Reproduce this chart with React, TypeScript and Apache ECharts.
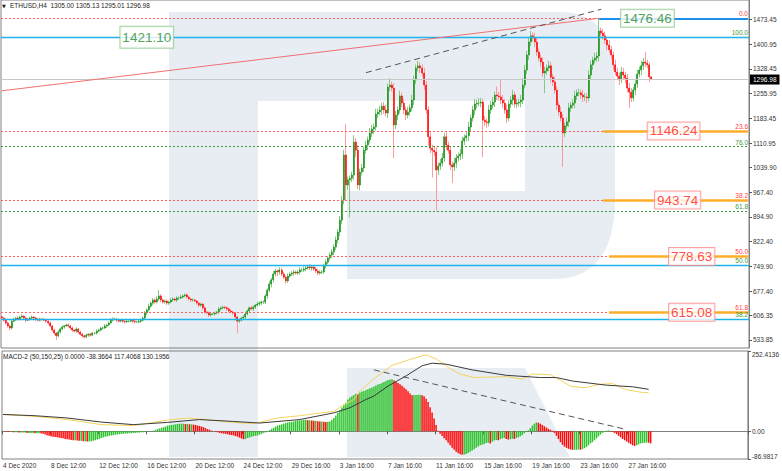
import React, { useEffect, useRef } from 'react';
import * as echarts from 'echarts';

// ---------- DATA ----------
const FIRST_OPEN = 602;

const closes = [
  598, 592, 584, 575, 569, 589, 595, 598, 595, 601,
  604, 598, 592, 595, 598, 601, 598, 595, 592, 595,
  595, 592, 589, 584, 575, 563, 554, 546, 557, 566,
  572, 575, 578, 575, 569, 563, 560, 566, 557, 551,
  546, 543, 548, 551, 548, 554, 554, 560, 563, 569,
  569, 575, 578, 584, 592, 595, 595, 592, 589, 592,
  589, 587, 589, 589, 592, 589, 587, 587, 589, 592,
  598, 613, 622, 633, 642, 651, 645, 654, 663, 651,
  645, 648, 642, 645, 651, 654, 651, 657, 657, 660,
  663, 666, 660, 654, 651, 651, 648, 642, 636, 639,
  628, 616, 613, 607, 610, 610, 613, 616, 625, 628,
  630, 628, 625, 619, 616, 613, 601, 589, 592, 598,
  601, 610, 619, 628, 625, 630, 636, 639, 642, 645,
  645, 663, 680, 698, 710, 727, 736, 733, 739, 727,
  718, 707, 721, 727, 730, 733, 730, 733, 739, 739,
  742, 745, 748, 745, 748, 742, 736, 730, 733, 733,
  751, 762, 774, 783, 792, 806, 827, 850, 885, 944,
  1076, 988, 1003, 1008, 1017, 1114, 1090, 988, 1026, 1038,
  1090, 1105, 1120, 1140, 1152, 1158, 1196, 1202, 1208, 1219,
  1208, 1199, 1275, 1281, 1272, 1164, 1193, 1208, 1249, 1228,
  1208, 1193, 1202, 1214, 1237, 1296, 1331, 1337, 1331, 1316,
  1281, 1208, 1129, 1096, 1090, 1085, 1032, 1044, 1052, 1067,
  1129, 1105, 1090, 1047, 1041, 1052, 1067, 1073, 1079, 1117,
  1126, 1132, 1158, 1184, 1208, 1225, 1228, 1228, 1231, 1178,
  1173, 1170, 1208, 1222, 1231, 1252, 1249, 1246, 1237, 1228,
  1208, 1184, 1225, 1237, 1252, 1225, 1228, 1231, 1237, 1281,
  1325, 1369, 1407, 1425, 1419, 1407, 1378, 1360, 1348, 1316,
  1322, 1331, 1337, 1304, 1290, 1266, 1222, 1202, 1184, 1140,
  1161, 1173, 1214, 1222, 1228, 1249, 1258, 1258, 1252, 1246,
  1246, 1243, 1310, 1340, 1354, 1360, 1366, 1439, 1433, 1425,
  1413, 1398, 1384, 1369, 1340, 1319, 1307, 1296, 1319, 1310,
  1301, 1272, 1260, 1243, 1266, 1284, 1313, 1325, 1337, 1348,
  1345, 1340, 1305, 1296.98,
];

const upWicks = [
  4, 3, 5, 3, 4, 6, 4, 3, 5, 4,
  5, 3, 4, 3, 4, 5, 3, 4, 3, 4,
  3, 4, 3, 3, 4, 3, 4, 3, 6, 4,
  5, 3, 4, 4, 3, 4, 3, 5, 3, 4,
  3, 4, 5, 3, 4, 4, 3, 5, 4, 3,
  4, 5, 3, 4, 6, 5, 4, 3, 4, 3,
  4, 3, 5, 3, 4, 3, 4, 3, 5, 4,
  5, 6, 4, 7, 5, 6, 5, 8, 17, 5,
  5, 4, 5, 4, 6, 5, 4, 5, 4, 6,
  5, 4, 5, 4, 3, 5, 4, 3, 5, 4,
  4, 5, 3, 4, 5, 4, 5, 4, 5, 4,
  5, 4, 5, 4, 5, 4, 3, 4, 5, 4,
  5, 4, 5, 4, 6, 5, 4, 8, 5, 4,
  5, 6, 5, 8, 6, 9, 6, 5, 8, 6,
  6, 5, 8, 5, 6, 7, 5, 6, 8, 6,
  7, 6, 5, 8, 6, 5, 6, 7, 5, 6,
  6, 8, 6, 7, 8, 8, 10, 9, 12, 12,
  15, 91, 10, 8, 10, 20, 12, 15, 10, 12,
  10, 12, 10, 15, 12, 10, 15, 10, 12, 10,
  12, 15, 10, 20, 10, 15, 12, 10, 15, 10,
  12, 10, 15, 10, 15, 12, 10, 15, 12, 10,
  15, 12, 10, 15, 10, 12, 15, 10, 12, 15,
  12, 15, 10, 12, 10, 15, 12, 10, 15, 12,
  10, 12, 15, 10, 12, 15, 10, 15, 12, 10,
  12, 10, 15, 12, 15, 10, 25, 12, 50, 15,
  12, 15, 10, 12, 15, 10, 12, 10, 15, 20,
  15, 12, 15, 14, 10, 15, 12, 10, 12, 15,
  12, 10, 15, 12, 10, 15, 12, 10, 15, 12,
  10, 12, 15, 10, 12, 15, 10, 12, 10, 15,
  12, 10, 15, 12, 10, 15, 12, 37.46, 10, 12,
  12, 10, 15, 12, 10, 15, 12, 10, 15, 12,
  10, 12, 15, 12, 10, 15, 12, 10, 15, 12,
  30, 10, 8, 0.13,
];

const downWicks = [
  4, 5, 6, 5, 7, 4, 3, 5, 4, 3,
  3, 4, 5, 3, 4, 3, 4, 5, 3, 4,
  4, 3, 4, 5, 4, 5, 6, 12, 5, 4,
  4, 5, 3, 4, 5, 6, 4, 5, 6, 4,
  6, 5, 4, 5, 4, 3, 5, 4, 3, 4,
  4, 3, 5, 4, 3, 4, 3, 5, 4, 3,
  4, 5, 3, 4, 3, 4, 5, 3, 4, 5,
  4, 5, 6, 5, 4, 6, 5, 4, 5, 6,
  5, 4, 6, 5, 4, 5, 4, 6, 5, 4,
  5, 4, 5, 4, 6, 5, 4, 5, 6, 5,
  6, 5, 4, 6, 5, 4, 5, 4, 6, 5,
  5, 4, 6, 5, 4, 5, 6, 35, 5, 4,
  5, 6, 4, 5, 4, 6, 5, 4, 5, 6,
  5, 6, 8, 6, 10, 8, 6, 12, 8, 6,
  6, 8, 6, 5, 6, 8, 5, 6, 7, 6,
  6, 7, 5, 6, 8, 5, 6, 7, 5, 6,
  6, 8, 6, 7, 8, 10, 8, 10, 12, 12,
  12, 44, 15, 110, 12, 15, 20, 12, 15, 10,
  12, 10, 15, 10, 12, 15, 10, 12, 10, 15,
  12, 10, 15, 12, 10, 97, 12, 15, 10, 12,
  12, 15, 10, 12, 10, 15, 12, 10, 15, 12,
  15, 12, 25, 15, 80, 12, 119, 15, 12, 10,
  12, 15, 10, 15, 47, 12, 15, 10, 12, 15,
  12, 10, 15, 12, 10, 15, 12, 10, 12, 108,
  12, 15, 10, 12, 10, 15, 12, 10, 12, 15,
  12, 15, 10, 12, 15, 10, 12, 10, 15, 12,
  10, 12, 15, 12, 10, 15, 12, 10, 15, 12,
  59, 12, 10, 15, 12, 10, 15, 12, 10, 99,
  12, 10, 15, 12, 10, 15, 12, 10, 12, 15,
  12, 15, 10, 12, 15, 10, 12, 15, 10, 12,
  12, 15, 10, 12, 15, 10, 12, 15, 10, 12,
  15, 12, 46, 12, 10, 15, 12, 10, 15, 12,
  12, 10, 15, 1.97,
];

const histogram = [
  2, 1, -1, -2, -2, -3, -3, -3, -4, -4,
  -4, -4, -5, -5, -5, -5, -6, -6, -6, -7,
  -8, -10, -12, -14, -16, -17, -18, -19, -20, -21,
  -22, -24, -25, -26, -27, -28, -28, -29, -30, -30,
  -31, -31, -32, -32, -31, -30, -28, -26, -24, -21,
  -19, -17, -16, -14, -13, -12, -11, -10, -9, -8,
  -8, -7, -7, -6, -6, -5, -5, -4, -4, -3,
  -3, -2, -1, -1, 0, 2, 4, 7, 9, 11,
  13, 15, 18, 19, 20, 21, 22, 23, 24, 24,
  24, 23, 23, 22, 22, 21, 20, 18, 17, 15,
  13, 10, 7, 5, 2, 0, -2, -3, -5, -6,
  -7, -8, -9, -11, -12, -13, -15, -17, -20, -23,
  -25, -24, -21, -19, -17, -15, -14, -13, -10, -8,
  -5, -3, 0, 4, 8, 11, 15, 18, 20, 22,
  24, 26, 28, 29, 30, 31, 33, 34, 35, 35,
  36, 36, 35, 35, 34, 33, 33, 32, 31, 31,
  30, 29, 30, 31, 36, 42, 50, 58, 66, 75,
  84, 90, 100, 106, 110, 114, 118, 117, 122, 125,
  127, 130, 132, 135, 138, 141, 144, 147, 149, 152,
  155, 158, 161, 163, 164, 160, 156, 152, 148, 143,
  138, 132, 126, 119, 113, 114, 114, 115, 115, 113,
  110, 102, 92, 76, 59, 40, 20, 2, -8, -15,
  -22, -28, -36, -44, -52, -58, -64, -69, -72, -74,
  -73, -71, -68, -64, -60, -56, -52, -48, -44, -42,
  -40, -37, -36, -38, -33, -29, -27, -28, -25, -22,
  -21, -24, -26, -25, -23, -24, -21, -19, -16, -12,
  -6, -2, 3, 10, 18, 24, 28, 27, 24, 20,
  16, 12, 8, 5, 2, -5, -14, -24, -34, -42,
  -48, -52, -55, -57, -58, -58, -58, -57, -58, -56,
  -53, -49, -44, -38, -34, -28, -22, -16, -10, -5,
  -1, 2, 3, 1, -2, -5, -9, -14, -19, -24,
  -28, -32, -36, -40, -44, -46, -44, -41, -38, -37,
  -36, -35, -36, -38,
];

// MACD lines as [bar index, value] vertices
const macdBlackLine = [
  [0, 53], [16, 49], [32, 42], [49, 29], [65, 21], [82, 28], [98, 37], [115, 31],
  [128, 26], [148, 37], [165, 58], [173, 74], [181, 100], [185, 111], [192, 142],
  [201, 174], [209, 206], [214, 214], [221, 211], [234, 193], [251, 176], [268, 169],
  [276, 169], [284, 158], [301, 145], [314, 140], [322, 132],
];
const macdYellowLine = [
  [0, 53], [16, 47], [32, 37], [49, 21], [65, 18], [82, 35], [92, 42], [115, 28],
  [125, 24], [137, 42], [148, 49], [165, 63], [169, 79], [175, 100], [178, 127],
  [185, 165], [194, 207], [203, 226], [211, 240], [216, 228], [222, 201], [228, 180],
  [235, 169], [251, 172], [259, 164], [264, 180], [273, 178], [277, 164], [283, 142],
  [290, 137], [298, 148], [304, 150], [310, 132], [318, 123], [322, 121],
];

const xTickLabels = [
  '4 Dec 2020', '8 Dec 12:00', '12 Dec 12:00', '16 Dec 12:00', '20 Dec 12:00',
  '24 Dec 12:00', '29 Dec 16:00', '3 Jan 16:00', '7 Jan 16:00', '11 Jan 16:00',
  '15 Jan 16:00', '19 Jan 16:00', '23 Jan 16:00', '27 Jan 16:00',
];
const X_TICK_STEP = 24;
const SLOT_COUNT = 372;

const priceTicks = [
  533.85, 606.35, 677.4, 749.9, 822.4, 894.9, 967.4, 1039.9,
  1110.95, 1183.45, 1255.95, 1328.45, 1400.95, 1473.45,
];
const macdTicks = [252.4136, 0, -86.9817];
const macdTickLabels = ['252.4136', '0.00', '-86.9817'];

const redFibLabels = ['0.0', '23.6', '38.2', '50.0', '61.8'];
const redFibValues = [1476.46, 1146.24, 943.74, 778.63, 615.08];
const greenFibLabels = ['100.0', '76.0', '61.8', '50.0', '38.2'];
const greenFibValues = [1421.1, 1100.3, 910.4, 752.7, 594.9];
const cyanLevels = [1421.1, 752.7, 594.9];
const currentPrice = 1296.98;

// trend lines: [bar index, value] endpoints
const redTrend = [[0, 1264], [297, 1476.46]];
const blackTrend = [[181, 1317], [298, 1503]];
const macdTrend = [[185, 193], [310, 7]];

const headerText = 'ETHUSD,H4  1305.00 1305.13 1295.01 1296.98';
const macdHeader = 'MACD-2 (50,150,25) 0.0000 -38.3664 117.4068 130.1956';

// ---------- LOGO ----------
const LOGO_D =
  'M169 12 H560 C600 12 615 40 615 85 V200 C615 250 595 279 555 279 H347 V191 H525 V101 H258 V457 H169 Z ' +
  'M347 368 H525 L570 457 H347 Z';
let logoRegistered = false;
function ensureLogo() {
  if (logoRegistered) return;
  echarts.graphic.registerShape('rfLogo', echarts.graphic.extendPath(LOGO_D, {}));
  logoRegistered = true;
}

const FONT = 'Liberation Sans, Arial, sans-serif';
const UP_BODY = '#0f8f0f';
const DOWN_BODY = '#ff0000';
const UP_WICK = '#86c986';
const DOWN_WICK = '#ff9a9a';
const CYAN = '#1cb4ea';

function buildOption() {
  const slots = Array.from({ length: SLOT_COUNT }, (_, i) => String(i));
  const candles = closes.map((c, i) => {
    const o = i === 0 ? FIRST_OPEN : closes[i - 1];
    const h = Math.max(o, c) + upWicks[i];
    const l = Math.min(o, c) - downWicks[i];
    return [o, c, l, h];
  });
  // bodies only (no wicks), drawn over the light-coloured full candles
  const bodies = candles.map(([o, c]) => [o, c, Math.min(o, c), Math.max(o, c)]);
  const histData = histogram.map((v, i) => ({
    value: v,
    itemStyle: { color: i === 0 || v >= histogram[i - 1] ? '#2fc42f' : '#ff0a0a' },
  }));
  const tickInterval = (index: number) =>
    index % X_TICK_STEP === 0 && index / X_TICK_STEP < xTickLabels.length;

  const lastSlot = SLOT_COUNT - 1;
  const smallLabel = { fontSize: 6.5, fontFamily: FONT };

  const markData: any[] = [];
  redFibValues.forEach((v, k) => {
    markData.push({
      yAxis: v,
      lineStyle: { color: '#ff6060', width: 1, type: [2, 2] },
      label: { show: true, position: 'insideEndTop', formatter: redFibLabels[k], color: '#ff4040', distance: 1, ...smallLabel },
    });
  });
  greenFibValues.forEach((v, k) => {
    const isCyan = cyanLevels.includes(v);
    markData.push({
      yAxis: v,
      lineStyle: isCyan
        ? { color: CYAN, width: 1.3, type: 'solid' }
        : { color: '#3a9a3a', width: 1, type: [2, 2] },
      label: { show: true, position: 'insideEndTop', formatter: greenFibLabels[k], color: '#3a9a3a', distance: 1, ...smallLabel },
    });
  });
  markData.push({
    yAxis: currentPrice,
    lineStyle: { color: '#c8c8c8', width: 1, type: 'solid' },
    label: {
      show: true, position: 'end', formatter: currentPrice.toFixed(2), color: '#fff',
      backgroundColor: '#000', padding: [2, 3, 1, 3], distance: 1, ...smallLabel,
    },
  });
  markData.push([
    { coord: [297, redFibValues[0]], lineStyle: { color: '#1e8fe8', width: 2, type: 'solid' }, label: { show: false } },
    { coord: [lastSlot, redFibValues[0]] },
  ]);
  const orangeStart = [null, 299, 299, 302, 302];
  redFibValues.forEach((v, k) => {
    if (orangeStart[k] == null) return;
    markData.push([
      { coord: [orangeStart[k], v], lineStyle: { color: '#ffae2a', width: 2.5, type: 'solid' }, label: { show: false } },
      { coord: [lastSlot, v] },
    ]);
  });
  markData.push([
    { coord: redTrend[0], lineStyle: { color: '#f07070', width: 1, type: 'solid' }, label: { show: false } },
    { coord: redTrend[1] },
  ]);
  markData.push([
    { coord: blackTrend[0], lineStyle: { color: '#555', width: 1, type: [6, 4] }, label: { show: false } },
    { coord: blackTrend[1] },
  ]);

  const boxBase = {
    show: true, position: 'inside', fontSize: 13.5, fontFamily: FONT, backgroundColor: '#fff',
    borderWidth: 1, padding: [2, 2, 1, 2], lineHeight: 14,
  };
  const greenBox = { ...boxBase, color: '#23882a', borderColor: '#8cc88c' };
  const redBox = { ...boxBase, color: '#ff1a1a', borderColor: '#ff8a8a' };
  const boxes = [
    { value: [72, greenFibValues[0]], label: { ...greenBox, padding: [4, 2, 3, 2], formatter: greenFibValues[0].toFixed(2) } },
    { value: [321, redFibValues[0]], label: { ...greenBox, formatter: redFibValues[0].toFixed(2) } },
    { value: [334, redFibValues[1]], label: { ...redBox, formatter: redFibValues[1].toFixed(2) } },
    { value: [336, redFibValues[2]], label: { ...redBox, formatter: redFibValues[2].toFixed(2) } },
    { value: [343, redFibValues[3]], label: { ...redBox, formatter: redFibValues[3].toFixed(2) } },
    { value: [343, redFibValues[4]], label: { ...redBox, formatter: redFibValues[4].toFixed(2) } },
  ];

  return {
    animation: false,
    backgroundColor: '#ffffff',
    textStyle: { fontFamily: FONT },
    grid: [
      { left: 1, right: 33, top: 0, height: 348, show: true, borderColor: '#808080', borderWidth: 1, backgroundColor: 'transparent' },
      { left: 1, right: 33, top: 351, height: 108, show: true, borderColor: '#808080', borderWidth: 1, backgroundColor: 'transparent' },
    ],
    xAxis: [
      {
        type: 'category', gridIndex: 0, data: slots, boundaryGap: true,
        axisLine: { show: false }, axisTick: { show: false }, axisLabel: { show: false }, splitLine: { show: false },
      },
      {
        type: 'category', gridIndex: 1, data: slots, boundaryGap: true,
        axisLine: { show: true, lineStyle: { color: '#808080' } },
        axisTick: { show: true, interval: tickInterval, length: 3, lineStyle: { color: '#555' } },
        axisLabel: {
          show: true, interval: tickInterval, align: 'left', margin: 3, color: '#333', ...smallLabel,
          formatter: (v: string) => xTickLabels[Number(v) / X_TICK_STEP] ?? '',
        },
        splitLine: { show: false },
      },
    ],
    yAxis: [
      {
        type: 'value', gridIndex: 0, position: 'right', min: 510.4, max: 1530,
        splitLine: { show: false },
        axisLine: { show: true, lineStyle: { color: '#808080' } },
        axisTick: { show: true, customValues: priceTicks, length: 3, lineStyle: { color: '#555' } },
        axisLabel: { customValues: priceTicks, formatter: (v: number) => v.toFixed(2), color: '#333', margin: 4, ...smallLabel },
      },
      {
        type: 'value', gridIndex: 1, position: 'right', min: macdTicks[2], max: macdTicks[0],
        splitLine: { show: false },
        axisLine: { show: true, lineStyle: { color: '#808080' } },
        axisTick: { show: true, customValues: macdTicks, length: 3, lineStyle: { color: '#555' } },
        axisLabel: {
          customValues: macdTicks, color: '#333', margin: 4, ...smallLabel,
          formatter: (v: number) => {
            const k = macdTicks.findIndex((t) => Math.abs(t - v) < 1e-6);
            const txt = k >= 0 ? macdTickLabels[k] : '';
            if (k === 0) return `{top|${txt}}`;
            if (k === 2) return `{bot|${txt}}`;
            return txt;
          },
          rich: {
            top: { padding: [6, 0, 0, 0], fontSize: 6.5, color: '#333', fontFamily: FONT },
            bot: { padding: [0, 0, 6, 0], fontSize: 6.5, color: '#333', fontFamily: FONT },
          },
        },
      },
    ],
    graphic: {
      elements: [
        { type: 'rfLogo', x: 0, y: 0, z: -10, silent: true, style: { fill: '#e8edf4' } },
        { type: 'text', x: 2, y: 3, z: 50, style: { text: '▼', fontSize: 5, fill: '#222', fontFamily: 'DejaVu Sans' } },
        { type: 'text', x: 10, y: 2, z: 50, style: { text: headerText, fontSize: 6.5, fill: '#222', fontFamily: FONT } },
        { type: 'text', x: 3, y: 353, z: 50, style: { text: macdHeader, fontSize: 6.5, fill: '#222', fontFamily: FONT } },
      ],
    },
    series: [
      {
        type: 'candlestick', xAxisIndex: 0, yAxisIndex: 0, data: candles, barWidth: 1,
        itemStyle: { color: UP_WICK, color0: DOWN_WICK, borderColor: UP_WICK, borderColor0: DOWN_WICK, borderWidth: 1 },
        markLine: { silent: true, symbol: ['none', 'none'], animation: false, data: markData },
        z: 3,
      },
      {
        type: 'candlestick', xAxisIndex: 0, yAxisIndex: 0, data: bodies, barWidth: 1.5,
        itemStyle: { color: UP_BODY, color0: DOWN_BODY, borderColor: UP_BODY, borderColor0: DOWN_BODY, borderWidth: 0.5 },
        z: 4,
      },
      {
        type: 'scatter', xAxisIndex: 0, yAxisIndex: 0, symbolSize: 0, data: boxes, silent: true, z: 6,
      },
      {
        type: 'bar', xAxisIndex: 1, yAxisIndex: 1, data: histData, barWidth: 1.5,
        markLine: {
          silent: true, symbol: ['none', 'none'], animation: false,
          data: [[
            { coord: macdTrend[0], lineStyle: { color: '#555', width: 1, type: [6, 4] }, label: { show: false } },
            { coord: macdTrend[1] },
          ]],
        },
      },
      {
        type: 'line', xAxisIndex: 1, yAxisIndex: 1, data: macdYellowLine, symbol: 'none',
        lineStyle: { color: '#f4d35c', width: 1 }, z: 4,
      },
      {
        type: 'line', xAxisIndex: 1, yAxisIndex: 1, data: macdBlackLine, symbol: 'none',
        lineStyle: { color: '#3a3a3a', width: 1 }, z: 4,
      },
    ],
  };
}

export default function App() {
  const ref = useRef<HTMLDivElement>(null);
  useEffect(() => {
    if (!ref.current) return;
    ensureLogo();
    const chart = echarts.init(ref.current, null, { renderer: 'svg' });
    chart.setOption(buildOption() as any);
    return () => chart.dispose();
  }, []);
  return (
    <div
      ref={ref}
      style={{ position: 'fixed', left: 0, top: 0, width: 782, height: 471, background: '#fff' }}
    />
  );
}
